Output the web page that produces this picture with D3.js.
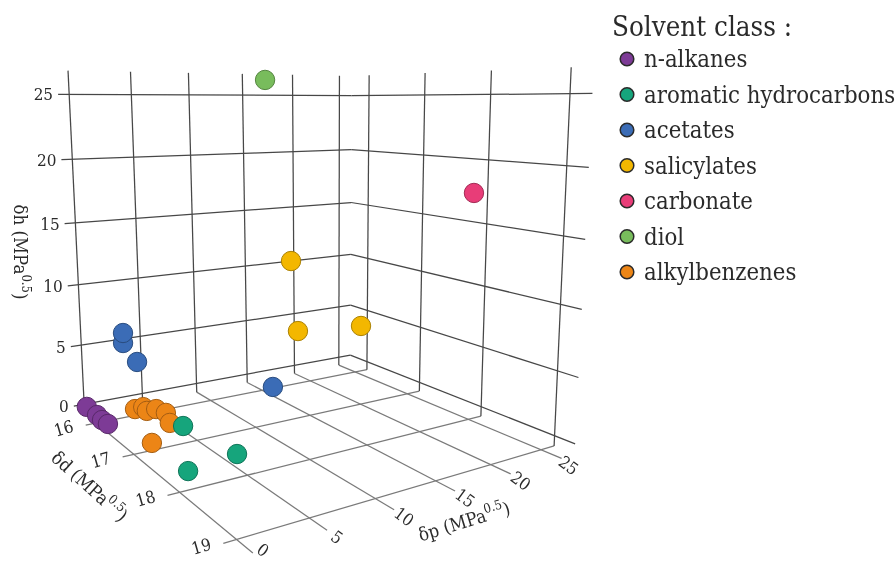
<!DOCTYPE html><html><head><meta charset="utf-8"><style>html,body{margin:0;background:#fff}svg{display:block}text{font-family:"DejaVu Serif Condensed","DejaVu Serif",serif;fill:#2b2b2b}</style></head><body>
<svg id="c" width="896" height="563"><defs><filter id="soft" x="0" y="0" width="896" height="563" filterUnits="userSpaceOnUse"><feGaussianBlur stdDeviation="0.45"/></filter></defs></svg>
<script src="https://cdn.jsdelivr.net/npm/d3@7"></script>
<script>
// ---- data ----
const classes=["n-alkanes","aromatic hydrocarbons","acetates","salicylates","carbonate","diol","alkylbenzenes"];
const classColors=["#7d3a96","#14a57c","#3a6cb6","#f3b705","#e83c78","#78bc5c","#ec8518"];
const nAlkanes=[[-0.05,15.75,0],[-0.04,16.05,0],[-0.12,16.22,0],[-0.05,16.36,0]];
const alkylbenzenes=[[0.85,16.79,2],[1.52,16.78,2],[1.41,16.9,2],[2.14,16.9,2],[2.39,17.05,2],[1.76,17.32,2],[-0.8,17.69,2]];
const aromatics=[[2.27,17.46,2],[2.96,18.31,2],[-0.82,18.41,2]];
const acetates=[[3.05,15.8,4.98],[3.08,15.8,5.82],[4.18,15.8,3.19],[3.22,18.85,7.6]];
const salicylates=[[18.05,16,10.56],[18.72,16,4.09],[25.63,16,3.6]];
const carbonate=[[10.53,20,19.6]];
const diol=[[11.19,17,26.04]];
const drawOrder=[["n-alkanes",nAlkanes],["alkylbenzenes",alkylbenzenes],["aromatic hydrocarbons",aromatics],["acetates",acetates],["salicylates",salicylates],["carbonate",carbonate],["diol",diol]];
const pTicks=[0,5,10,15,20,25],dTicks=[16,17,18,19],hTicks=[0,5,10,15,20,25];
// ---- axes bounds in data units ----
const pMin=-0.85,pMax=26.35,dMin=15.65,dMax=19.25,hMin=-0.8,hMax=26.8;
// ---- projection: normalised data space through a fitted camera matrix ----
const U=d3.scaleLinear().domain([0,25]).range([0,1]);
const V=d3.scaleLinear().domain([16,19]).range([0,1]);
const W=d3.scaleLinear().domain([0,25]).range([0,1]);
const M=[326.82456,77.58401,-19.56997,95.80999,19.26212,-26.95392,-325.00199,413.54795,0.18954,-0.26594,-0.05965,1];
function proj(p,d,h){const u=U(p),v=V(d),w=W(h),z=M[8]*u+M[9]*v+M[10]*w+M[11];
  return[(M[0]*u+M[1]*v+M[2]*w+M[3])/z,(M[4]*u+M[5]*v+M[6]*w+M[7])/z];}
const svg=d3.select("#c");
const root=svg.append("g").attr("filter","url(#soft)");
const line=d3.line();
const grid=root.append("g").attr("fill","none");
function seg(a,b,col){grid.append("path").attr("d",line([proj(...a),proj(...b)])).attr("stroke",col).attr("stroke-width",1.25);}
const wall="#474747",floor="#7a7a7a";
// floor
pTicks.forEach(p=>seg([p,dMin,hMin],[p,dMax,hMin],floor));
dTicks.forEach(d=>seg([pMax,d,hMin],[pMin,d,hMin],floor));
// walls
pTicks.forEach(p=>seg([p,dMin,hMin],[p,dMin,hMax],wall));
dTicks.forEach(d=>seg([pMax,d,hMin],[pMax,d,hMax],wall));
hTicks.forEach(h=>{seg([pMin,dMin,h],[pMax,dMin,h],wall);seg([pMax,dMin,h],[pMax,dMax,h],wall);});
// tick labels
const fs=17;
const lab=root.append("g").attr("font-size",fs);
hTicks.forEach(h=>{const q=proj(pMin,dMin,h);
  lab.append("text").text(h).attr("text-anchor","end").attr("x",q[0]-5).attr("y",q[1]+6);});
function rotLabel(t,x,y,a){lab.append("text").text(t).attr("text-anchor","middle").attr("dominant-baseline","central")
  .attr("transform",`translate(${x},${y}) rotate(${a})`);}
dTicks.forEach(d=>{const q=proj(pMin,d,hMin);rotLabel(d,q[0]-22,q[1]+3,-16);});
pTicks.forEach(p=>{const q=proj(p,dMax,hMin);rotLabel(p,q[0]+(p===0?10:p===25?7:10),q[1]+(p===0?-3:7),36);});
// axis titles
function title(mainTxt,x,y,a){const t=root.append("text").attr("font-size",18.5).attr("text-anchor","middle").attr("dominant-baseline","central")
  .attr("transform",`translate(${x},${y}) rotate(${a})`);
  t.append("tspan").text(mainTxt+" (MPa");
  t.append("tspan").text("0.5").attr("font-size",13).attr("dy",-6);
  t.append("tspan").text(")").attr("dy",6);}
title("δh",21,252,90);
title("δd",90,486,42);
title("δp",464,521,-17);
// points
const colorOf=d3.scaleOrdinal().domain(classes).range(classColors);
drawOrder.forEach(([name,vals])=>{
  root.append("g").selectAll("circle").data(vals).join("circle")
   .attr("cx",v=>proj(...v)[0]).attr("cy",v=>proj(...v)[1]).attr("r",9.7)
   .attr("fill",colorOf(name)).attr("stroke",d3.color(colorOf(name)).darker(1).formatHex()).attr("stroke-width",1);
});
// legend
const y=d3.scalePoint().domain(classes).range([59,272]);
const leg=root.append("g");
leg.append("text").text("Solvent class :").attr("x",612).attr("y",36).attr("font-size",27.5);
classes.forEach(c=>{
  leg.append("circle").attr("cx",627).attr("cy",y(c)).attr("r",6.8).attr("fill",colorOf(c)).attr("stroke","#2a2a2a").attr("stroke-width",1.5);
  leg.append("text").text(c).attr("x",644).attr("y",y(c)+8).attr("font-size",23.7);
});
</script></body></html>
